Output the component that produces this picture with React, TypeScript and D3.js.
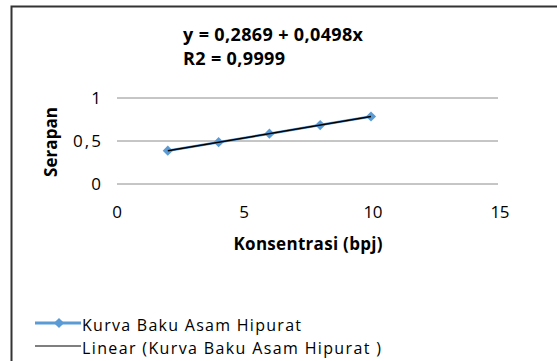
import React from 'react';
import * as d3 from 'd3';

// data
const konsentrasi = [2, 4, 6, 8, 10];
const serapan = [0.387, 0.486, 0.585, 0.685, 0.785];
const xTicks = [0, 5, 10, 15];
const yTicks = [0, 0.5, 1];
const intercept = 0.2869;
const slope = 0.0498;
const persamaan = 'y = 0,2869 + 0,0498x';
const r2Label = 'R2 = 0,9999';
const seriesName = 'Kurva Baku Asam Hipurat';
const trendName = 'Linear (Kurva Baku Asam Hipurat  )';

const W = 557;
const H = 361;
const FONT = '"Open Sans", sans-serif';

const fmt = (v: number) => String(v).replace('.', ',');
// rough widths, the font there is spaced out a bit
const tickWidth = (s: string) => (s.length === 1 ? undefined : s.length === 2 ? 19 : 28);

export default function App() {
	const xScale = d3.scaleLinear().domain([0, 15]).range([117, 498]);
	const yScale = d3.scaleLinear().domain([0, 1]).range([184, 98]);

	const pts = konsentrasi.map((k, i) => ({ x: k, y: serapan[i] }));

	const line = d3
		.line<{ x: number; y: number }>()
		.x(d => xScale(d.x))
		.y(d => yScale(d.y));

	const trendX = [konsentrasi[0], konsentrasi[konsentrasi.length - 1]];
	const trend = trendX.map(x => ({ x, y: intercept + slope * x }));

	// excel style marker: a square turned 45deg
	const marker = d3.symbol().type(d3.symbolSquare).size(52)() as string;

	return (
		<svg width={W} height={H} style={{ position: 'absolute', left: 0, top: 0 }}>
			<rect width={W} height={H} fill="#fff" />
			{/* frame */}
			<path d={`M11.5,${H} V6.5 H${W}`} fill="none" stroke="#333" strokeWidth={2} />

			{/* equation */}
			<text x={183} y={41} fontFamily={FONT} fontWeight="bold" fontSize={18} textLength={180} lengthAdjust="spacing" fill="#000">
				{persamaan}
			</text>
			<text x={183} y={65} fontFamily={FONT} fontWeight="bold" fontSize={18} textLength={102} lengthAdjust="spacing" fill="#000">
				{r2Label}
			</text>

			{/* grid */}
			{yTicks.map(t => (
				<g key={t}>
					<line x1={117} x2={498} y1={yScale(t)} y2={yScale(t)} stroke="#8c8c8c" strokeWidth={1} />
					<text
						x={101}
						y={yScale(t) + 6}
						textAnchor="end"
						fontFamily={FONT}
						fontSize={17}
						textLength={tickWidth(fmt(t))}
						lengthAdjust="spacing"
						fill="#000"
					>
						{fmt(t)}
					</text>
				</g>
			))}

			{xTicks.map(t => (
				<text
					key={t}
					x={xScale(t) + (t >= 10 ? 2 : 0)}
					y={218}
					textAnchor="middle"
					fontFamily={FONT}
					fontSize={17}
					textLength={tickWidth(fmt(t))}
					lengthAdjust="spacing"
					fill="#000"
				>
					{fmt(t)}
				</text>
			))}

			<text x={308} y={250} textAnchor="middle" fontFamily={FONT} fontWeight="bold" fontSize={17} textLength={149} lengthAdjust="spacing" fill="#000">
				Konsentrasi (bpj)
			</text>
			<text
				transform={`translate(57,142) rotate(-90)`}
				textAnchor="middle"
				fontFamily={FONT}
				fontWeight="bold"
				fontSize={17}
				textLength={70}
				lengthAdjust="spacing"
				fill="#000"
			>
				Serapan
			</text>

			{/* series */}
			<path d={line(pts) || ''} fill="none" stroke="#5b9bd5" strokeWidth={2.5} />
			{pts.map((p, i) => (
				<path key={i} d={marker} transform={`translate(${xScale(p.x)},${yScale(p.y)}) rotate(45)`} fill="#5b9bd5" />
			))}
			<path d={line(trend) || ''} fill="none" stroke="#000" strokeWidth={1.5} />

			{/* legend */}
			<line x1={35} x2={81} y1={323} y2={323} stroke="#5b9bd5" strokeWidth={3} />
			<path d={marker} transform="translate(59,323) rotate(45)" fill="#5b9bd5" />
			<text x={82} y={331} fontFamily={FONT} fontSize={16} textLength={219} lengthAdjust="spacing" fill="#000">
				{seriesName}
			</text>
			<line x1={35} x2={81} y1={346} y2={346} stroke="#000" strokeWidth={1.2} />
			<text x={82} y={354} fontFamily={FONT} fontSize={16} textLength={299} lengthAdjust="spacing" fill="#000">
				{trendName}
			</text>
		</svg>
	);
}
